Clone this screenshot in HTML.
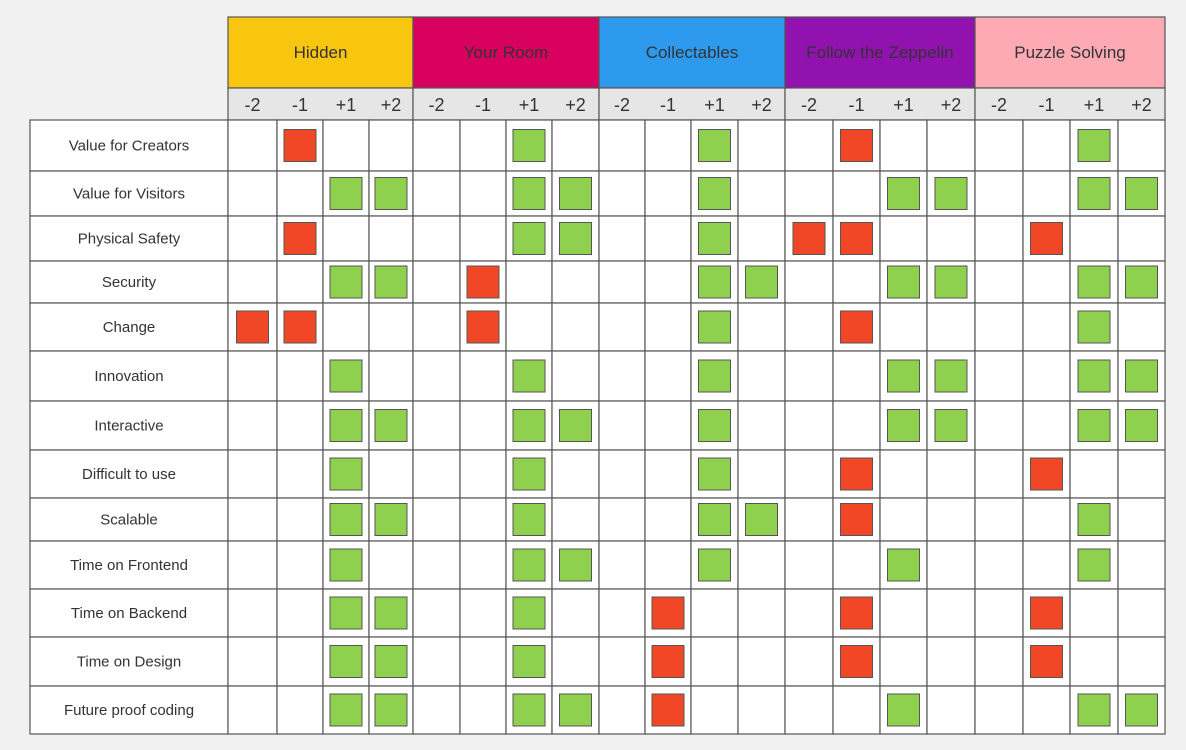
<!DOCTYPE html>
<html><head><meta charset="utf-8"><style>
html,body{margin:0;padding:0;background:#f1f1f1;width:1186px;height:750px;overflow:hidden}
svg{display:block;font-family:"Liberation Sans","DejaVu Sans",sans-serif}
</style></head><body>
<svg id="chart" width="1186" height="750"></svg>
<script>
const groups=["Hidden","Your Room","Collectables","Follow the Zeppelin","Puzzle Solving"];
const groupColors=["#f8c50f","#d8005e","#2d9aee","#9112af","#fdaab4"];
const scoreLabels=["-2","-1","+1","+2"];
const criteria=["Value for Creators","Value for Visitors","Physical Safety","Security","Change","Innovation","Interactive","Difficult to use","Scalable","Time on Frontend","Time on Backend","Time on Design","Future proof coding"];
// per row: 20 cells (group x score), 1=positive(green), -1=negative(red), 0=empty
const ratings=[
[0,-1,0,0, 0,0,1,0, 0,0,1,0, 0,-1,0,0, 0,0,1,0],
[0,0,1,1, 0,0,1,1, 0,0,1,0, 0,0,1,1, 0,0,1,1],
[0,-1,0,0, 0,0,1,1, 0,0,1,0, -1,-1,0,0, 0,-1,0,0],
[0,0,1,1, 0,-1,0,0, 0,0,1,1, 0,0,1,1, 0,0,1,1],
[-1,-1,0,0, 0,-1,0,0, 0,0,1,0, 0,-1,0,0, 0,0,1,0],
[0,0,1,0, 0,0,1,0, 0,0,1,0, 0,0,1,1, 0,0,1,1],
[0,0,1,1, 0,0,1,1, 0,0,1,0, 0,0,1,1, 0,0,1,1],
[0,0,1,0, 0,0,1,0, 0,0,1,0, 0,-1,0,0, 0,-1,0,0],
[0,0,1,1, 0,0,1,0, 0,0,1,1, 0,-1,0,0, 0,0,1,0],
[0,0,1,0, 0,0,1,1, 0,0,1,0, 0,0,1,0, 0,0,1,0],
[0,0,1,1, 0,0,1,0, 0,-1,0,0, 0,-1,0,0, 0,-1,0,0],
[0,0,1,1, 0,0,1,0, 0,-1,0,0, 0,-1,0,0, 0,-1,0,0],
[0,0,1,1, 0,0,1,1, 0,-1,0,0, 0,0,1,0, 0,0,1,1]
];
const NS="http://www.w3.org/2000/svg";
const svg=document.getElementById('chart');
function mk(tag,attrs,parent){const e=document.createElementNS(NS,tag);for(const k in attrs)e.setAttribute(k,attrs[k]);(parent||svg).appendChild(e);return e;}
const colX=[228,277,323,369,413,460,506,552,599,645,691,738,785,833,880,927,975,1023,1070,1118,1165];
const rowY=[120,171,216,261,303,351,401,450,498,541,589,637,686,734];
const labelX0=30;
// header groups
groups.forEach((g,i)=>{
  const x0=colX[i*4],x1=colX[i*4+4];
  const r=mk('rect',{x:x0,y:17,width:x1-x0,height:71,fill:groupColors[i],stroke:'#555','stroke-width':1.2});
  
  
  const t=mk('text',{x:(x0+x1)/2,y:58,'text-anchor':'middle','font-size':17,fill:'#333'});
  t.textContent=g;
  
  
  const s=mk('rect',{x:x0,y:88,width:x1-x0,height:32,fill:'#e6e6e6',stroke:'#555','stroke-width':1.2});
  
  
  scoreLabels.forEach((sl,j)=>{
    const c=i*4+j;
    const st=mk('text',{x:(colX[c]+colX[c+1])/2,y:111,'text-anchor':'middle','font-size':18,fill:'#333'});
    st.textContent=sl;
    
    
  });
});
// rows
criteria.forEach((cr,r)=>{
  const y0=rowY[r],y1=rowY[r+1];
  const lr=mk('rect',{x:labelX0,y:y0,width:colX[0]-labelX0,height:y1-y0,fill:'#fff',stroke:'#555','stroke-width':1.2});
  
  
  const lt=mk('text',{x:(labelX0+colX[0])/2,y:(y0+y1)/2+5,'text-anchor':'middle','font-size':15,fill:'#333'});
  lt.textContent=cr;
  
  
  for(let c=0;c<20;c++){
    const x0=colX[c],x1=colX[c+1];
    const cell=mk('rect',{x:x0,y:y0,width:x1-x0,height:y1-y0,fill:'#fff',stroke:'#555','stroke-width':1.2});
    
    
  }
});
criteria.forEach((cr,r)=>{
  const y0=rowY[r],y1=rowY[r+1];
  ratings[r].forEach((v,c)=>{
    if(!v)return;
    const x0=colX[c],x1=colX[c+1],sz=32;
    const m=mk('rect',{x:(x0+x1)/2-sz/2,y:(y0+y1)/2-sz/2,width:sz,height:sz,fill:v>0?'#8fd14f':'#f24726',stroke:'#555','stroke-width':1});
    
    
  });
});
</script>
</body></html>
